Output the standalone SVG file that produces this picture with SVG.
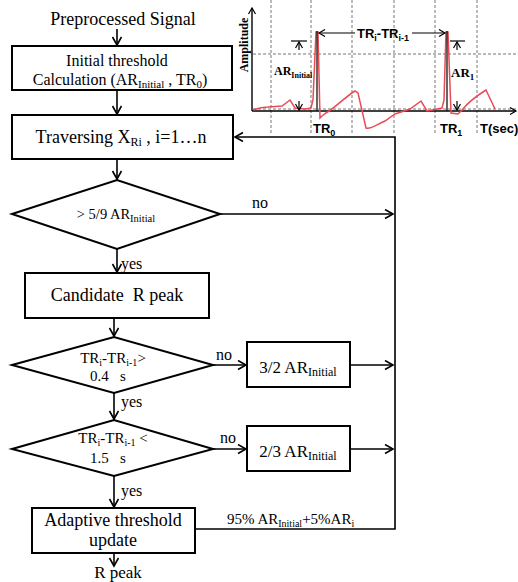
<svg xmlns="http://www.w3.org/2000/svg" width="518" height="582" viewBox="0 0 518 582">
<style>
.t{font-family:"Liberation Serif","Times New Roman",serif;fill:#000}
.b{fill:#fff;stroke:#000;stroke-width:2}
.c{fill:none;stroke:#000;stroke-width:1.6}
.dash{fill:none;stroke:#777;stroke-width:1;stroke-dasharray:3,2}
.ch{font-family:"Liberation Sans",Arial,sans-serif;font-weight:bold;fill:#000}
.cs{font-family:"Liberation Serif","Times New Roman",serif;font-weight:bold;fill:#000}
</style>
<defs>
<marker id="a" markerUnits="userSpaceOnUse" markerWidth="12" markerHeight="12" refX="9" refY="5" orient="auto-start-reverse">
<path d="M1,0.5 L9,5 L1,9.5" fill="none" stroke="#000" stroke-width="1.6"/>
</marker>
<marker id="s" markerUnits="userSpaceOnUse" markerWidth="10" markerHeight="10" refX="7" refY="4" orient="auto-start-reverse">
<path d="M1,0.5 L7,4 L1,7.5" fill="none" stroke="#000" stroke-width="1.2"/>
</marker>
</defs>
<rect width="518" height="582" fill="#fff"/>

<g id="chart">
<g class="dash">
<line x1="271" y1="0" x2="271" y2="135"/>
<line x1="311" y1="0" x2="311" y2="135"/>
<line x1="352" y1="0" x2="352" y2="135"/>
<line x1="394" y1="0" x2="394" y2="135"/>
<line x1="435" y1="0" x2="435" y2="135"/>
<line x1="477" y1="0" x2="477" y2="135"/>
<line x1="253" y1="54" x2="518" y2="54"/>
<line x1="253" y1="109" x2="518" y2="109"/>
</g>
<line x1="252" y1="111" x2="252" y2="8" stroke="#000" stroke-width="1.4" marker-end="url(#s)"/>
<line x1="252" y1="111" x2="516" y2="111" stroke="#000" stroke-width="1.4" marker-end="url(#s)"/>
<path d="M253,110 C258,108 262,107 268,107 L282,106 L290,100 L295,108 L305,109 L311,108 L313,100 L316,32 L318,32 L320,118 L322,116 L326,113 C335,108 345,97 355,91 L358,93 L366,128 C370,130 376,125 385,121 L395,114 L410,109 L421,101 L427,111 L442,108 L444,100 L446,32 L448,32 L451,113 L458,114 L462,110 C470,100 478,95 486,90 L495,109" fill="none" stroke="#e94b54" stroke-width="1.5"/>
<line x1="317" y1="31" x2="317" y2="111" stroke="#000" stroke-width="1.2"/>
<line x1="447" y1="31" x2="447" y2="111" stroke="#000" stroke-width="1.2"/>
<line x1="319" y1="33" x2="355" y2="33" stroke="#000" stroke-width="1.2" marker-start="url(#s)"/>
<line x1="412" y1="33" x2="445" y2="33" stroke="#000" stroke-width="1.2" marker-end="url(#s)"/>
<text class="ch" x="383" y="38" font-size="13" text-anchor="middle">TR<tspan font-size="9" dy="3">i</tspan><tspan dy="-3">-TR</tspan><tspan font-size="9" dy="3">i-1</tspan></text>
<line x1="291" y1="41" x2="307" y2="41" stroke="#000" stroke-width="1.2"/>
<line x1="299" y1="50" x2="299" y2="42" stroke="#000" stroke-width="1.2" marker-end="url(#s)"/>
<line x1="299" y1="101" x2="299" y2="110" stroke="#000" stroke-width="1.2" marker-end="url(#s)"/>
<line x1="450" y1="41" x2="465" y2="41" stroke="#000" stroke-width="1.2"/>
<line x1="457" y1="50" x2="457" y2="42" stroke="#000" stroke-width="1.2" marker-end="url(#s)"/>
<line x1="457" y1="101" x2="457" y2="110" stroke="#000" stroke-width="1.2" marker-end="url(#s)"/>
<text class="cs" x="274" y="75" font-size="12">AR<tspan font-size="8" dy="3">Initial</tspan></text>
<text class="cs" x="451" y="77" font-size="13">AR<tspan font-size="9" dy="3">1</tspan></text>
<text class="cs" x="0" y="0" font-size="12" text-anchor="middle" transform="translate(248,45) rotate(-90)">Amplitude</text>
<text class="ch" x="313" y="133" font-size="13">TR<tspan font-size="9" dy="3">0</tspan></text>
<text class="ch" x="440" y="133" font-size="13">TR<tspan font-size="9" dy="3">1</tspan></text>
<text class="ch" x="480" y="133" font-size="13">T(sec)</text>
</g>

<g id="connectors">
<line class="c" x1="117" y1="29" x2="117" y2="45" marker-end="url(#a)"/>
<line class="c" x1="117" y1="90" x2="117" y2="114" marker-end="url(#a)"/>
<line class="c" x1="117" y1="159" x2="117" y2="179" marker-end="url(#a)"/>
<line class="c" x1="220" y1="214" x2="393" y2="214" marker-end="url(#a)"/>
<line class="c" x1="117" y1="249" x2="117" y2="272" marker-end="url(#a)"/>
<line class="c" x1="114" y1="318" x2="114" y2="336" marker-end="url(#a)"/>
<line class="c" x1="213" y1="365" x2="246" y2="365" marker-end="url(#a)"/>
<line class="c" x1="350" y1="365" x2="393" y2="365" marker-end="url(#a)"/>
<line class="c" x1="114" y1="393" x2="114" y2="419" marker-end="url(#a)"/>
<line class="c" x1="213" y1="449" x2="246" y2="449" marker-end="url(#a)"/>
<line class="c" x1="350" y1="449" x2="393" y2="449" marker-end="url(#a)"/>
<line class="c" x1="114" y1="476" x2="114" y2="507" marker-end="url(#a)"/>
<line class="c" x1="114" y1="553" x2="114" y2="566" marker-end="url(#a)"/>
<polyline class="c" points="195,529 395,529 395,137 235,137" marker-end="url(#a)"/>
<text class="t" x="252" y="208" font-size="16">no</text>
<text class="t" x="121" y="269" font-size="16">yes</text>
<text class="t" x="216" y="360" font-size="16">no</text>
<text class="t" x="121" y="407" font-size="16">yes</text>
<text class="t" x="220" y="443" font-size="16">no</text>
<text class="t" x="121" y="496" font-size="16">yes</text>
<text class="t" x="227" y="524" font-size="15">95% AR<tspan font-size="10" dy="3">Initial</tspan><tspan dy="-3">+5%AR</tspan><tspan font-size="10" dy="3">i</tspan></text>
</g>

<g id="start">
<text class="t" x="123" y="25" font-size="18" text-anchor="middle">Preprocessed Signal</text>
</g>
<g id="init">
<rect class="b" x="12" y="46" width="220" height="44" stroke-width="2.5"/>
<text class="t" x="117" y="66" font-size="16" text-anchor="middle">Initial threshold</text>
<text class="t" x="120" y="85" font-size="16" text-anchor="middle">Calculation (AR<tspan font-size="11" dy="3">Initial</tspan><tspan dy="-3"> , TR</tspan><tspan font-size="11" dy="3">0</tspan><tspan dy="-3">)</tspan></text>
</g>
<g id="traverse">
<rect class="b" x="12" y="115" width="221" height="44"/>
<text class="t" x="121" y="143" font-size="18" text-anchor="middle">Traversing X<tspan font-size="12" dy="3">Ri</tspan><tspan dy="-3"> , i=1…n</tspan></text>
</g>
<g id="d1">
<polygon class="b" points="12,214 117,180 220,214 117,249"/>
<text class="t" x="116" y="219" font-size="14.5" text-anchor="middle">&gt; 5/9 AR<tspan font-size="10.5" dy="3">Initial</tspan></text>
</g>
<g id="candidate">
<rect class="b" x="25" y="273" width="184" height="45"/>
<text class="t" x="117" y="301" font-size="18" text-anchor="middle">Candidate&#160; R peak</text>
</g>
<g id="d2">
<polygon class="b" points="12,365 114,337 213,365 114,393"/>
<text class="t" x="113" y="363" font-size="15" text-anchor="middle">TR<tspan font-size="10" dy="3">i</tspan><tspan dy="-3">-TR</tspan><tspan font-size="10" dy="3">i-1</tspan><tspan dy="-3">&gt;</tspan></text>
<text class="t" x="108" y="381" font-size="15" text-anchor="middle">0.4&#160;&#160; s</text>
</g>
<g id="r32">
<rect class="b" x="247" y="342" width="103" height="45"/>
<text class="t" x="298" y="373" font-size="17" text-anchor="middle">3/2 AR<tspan font-size="12" dy="3">Initial</tspan></text>
</g>
<g id="d3">
<polygon class="b" points="12,449 114,420 213,449 114,476"/>
<text class="t" x="113" y="443" font-size="15" text-anchor="middle">TR<tspan font-size="10" dy="3">i</tspan><tspan dy="-3">-TR</tspan><tspan font-size="10" dy="3">i-1</tspan><tspan dy="-3"> &lt;</tspan></text>
<text class="t" x="108" y="463" font-size="15" text-anchor="middle">1.5&#160;&#160; s</text>
</g>
<g id="r23">
<rect class="b" x="247" y="426" width="103" height="45"/>
<text class="t" x="298" y="457" font-size="17" text-anchor="middle">2/3 AR<tspan font-size="12" dy="3">Initial</tspan></text>
</g>
<g id="adaptive">
<rect class="b" x="32" y="508" width="163" height="45"/>
<text class="t" x="113" y="526" font-size="18" text-anchor="middle">Adaptive threshold</text>
<text class="t" x="113" y="546" font-size="18" text-anchor="middle">update</text>
</g>
<g id="end">
<text class="t" x="118" y="578" font-size="17" text-anchor="middle">R peak</text>
</g>
</svg>
